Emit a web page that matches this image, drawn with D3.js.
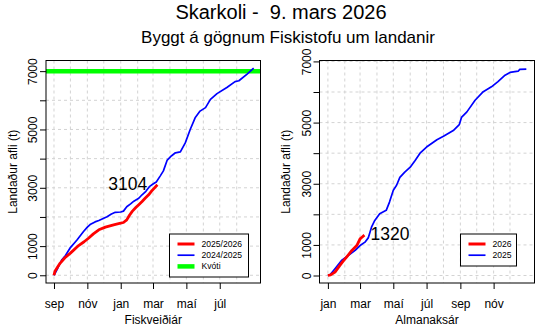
<!DOCTYPE html>
<html><head><meta charset="utf-8">
<script src="https://cdn.jsdelivr.net/npm/d3@7"></script>
<style>
html,body{margin:0;padding:0;background:#fff;}
text{font-family:"Liberation Sans",Arial,Helvetica,sans-serif;fill:#000;}
</style></head>
<body><svg id="c" width="555" height="333"></svg>
<script>
// ---- DATA ----
const title = "Skarkoli -  9. mars 2026";
const subtitle = "Byggt á gögnum Fiskistofu um landanir";
const yLabel = "Landaður afli (t)";
// Fishing year panel (days since 1 Sep)
const fyMonthDays = [0,30,61,91,122,153,181,212,242,273,303,334];
const fyTickDays = [0,61,122,181,242,303];
const fyTickLabels = ["sep","nóv","jan","mar","maí","júl"];
const fyPrevDays = [0,7,14,21,30,42,54,61,66,75,82,90,97,105,112,122,127,133,140,146,155,161,168,175,181,187,194,200,207,215,222,231,240,249,258,267,277,286,298,316,331,338,353,365];
const fyPrevVals = [0,250,520,680,950,1210,1500,1650,1740,1830,1880,1950,2010,2100,2160,2170,2200,2350,2450,2540,2640,2760,2880,3050,3130,3200,3400,3580,3950,4100,4200,4230,4540,5000,5400,5630,5750,6030,6230,6440,6640,6670,6900,7100];
const fyCurDays = [0,2,11,20,30,45,55,63,72,82,94,109,120,127,133,138,143,150,155,161,167,173,178,183,189];
const fyCurVals = [0,150,410,600,760,1020,1150,1270,1420,1560,1650,1730,1780,1810,1900,2060,2190,2330,2420,2530,2650,2760,2880,2980,3104];
const quota = 7000;
const fyLegend = ["2025/2026","2024/2025","Kvóti"];
const fyAnnot = {day:135, value:3104, text:"3104"};
// Calendar year panel (days since 1 Jan)
const cyMonthDays = [0,31,59,90,120,151,181,212,243,273,304,334];
const cyTickDays = [0,59,120,181,243,304];
const cyTickLabels = ["jan","mar","maí","júl","sep","nóv"];
const cyPrevDays = [0,4,13,25,37,50,59,68,74,80,86,95,107,113,120,126,132,141,151,160,169,181,200,212,230,241,245,255,270,285,300,312,325,334,349,352,364];
const cyPrevVals = [0,20,220,490,650,820,980,1090,1230,1580,1800,2020,2130,2400,2790,2950,3210,3380,3540,3760,4000,4200,4440,4550,4740,4930,5170,5350,5730,6010,6170,6340,6550,6640,6680,6740,6750];
const cyCurDays = [0,5,13,22,28,35,44,53,59,63,67];
const cyCurVals = [0,20,110,330,470,620,820,980,1200,1260,1320];
const cyLegend = ["2026","2025"];
const cyAnnot = {day:114, value:1320, text:"1320"};
const yTicks = [0,1000,2000,3000,4000,5000,6000,7000];
const yTickLabels = ["0","1000","","3000","","5000","","7000"];
const xLabels = ["Fiskveiðiár","Almanaksár"];

// ---- DRAW ----
const svg = d3.select("#c");
svg.append("text").attr("x",281).attr("y",18.5).attr("text-anchor","middle")
  .style("font-size","20px").style("white-space","pre").text(title);
svg.append("text").attr("x",288).attr("y",42.5).attr("text-anchor","middle")
  .style("font-size","17px").text(subtitle);

function panel(o){
  const x = d3.scaleLinear().domain(o.xDom).range([o.x0,o.x1]);
  const y = d3.scaleLinear().domain(o.yDom).range([o.yb,o.yt]);
  const g = svg.append("g");
  const clipId = "clip"+o.id;
  svg.append("clipPath").attr("id",clipId).append("rect")
    .attr("x",o.x0).attr("y",o.yt).attr("width",o.x1-o.x0).attr("height",o.yb-o.yt);
  const gc = g.append("g").attr("clip-path",`url(#${clipId})`);
  // grid
  gc.selectAll(".vg").data(o.months).join("line")
    .attr("x1",d=>x(d)).attr("x2",d=>x(d)).attr("y1",o.yt).attr("y2",o.yb)
    .attr("stroke","#d3d3d3").attr("stroke-dasharray","3,3").attr("stroke-width",1);
  gc.selectAll(".hg").data(yTicks).join("line")
    .attr("x1",o.x0).attr("x2",o.x1).attr("y1",d=>y(d)).attr("y2",d=>y(d))
    .attr("stroke","#d3d3d3").attr("stroke-dasharray","3,3").attr("stroke-width",1);
  // quota
  if(o.quota!=null){
    gc.append("line").attr("x1",o.x0).attr("x2",o.x1).attr("y1",y(o.quota)).attr("y2",y(o.quota))
      .attr("stroke","#00ff00").attr("stroke-width",4.5);
  }
  const line = d3.line().x(d=>x(d[0])).y(d=>y(d[1]));
  gc.append("path").datum(d3.zip(o.prevDays,o.prevVals)).attr("d",line)
    .attr("fill","none").attr("stroke","#0000ff").attr("stroke-width",1.7).attr("stroke-linejoin","round");
  gc.append("path").datum(d3.zip(o.curDays,o.curVals)).attr("d",line)
    .attr("fill","none").attr("stroke","#ff0000").attr("stroke-width",2.8).attr("stroke-linejoin","round");
  // box
  g.append("rect").attr("x",o.x0).attr("y",o.yt).attr("width",o.x1-o.x0).attr("height",o.yb-o.yt)
    .attr("fill","none").attr("stroke","#000").attr("stroke-width",1);
  // y axis
  const ya = g.append("g").attr("transform",`translate(${o.x0},0)`)
    .call(d3.axisLeft(y).tickValues(yTicks).tickSize(6).tickPadding(0).tickFormat((d,i)=>yTickLabels[i]));
  ya.select(".domain").remove();
  ya.selectAll("line").attr("stroke","#000");
  ya.selectAll(".tick text")
    .attr("transform","translate(-9,0) rotate(-90)")
    .attr("x",0).attr("y",0).attr("dy",0).attr("text-anchor","middle").style("font-size","12px");
  // x axis
  const xa = g.append("g").attr("transform",`translate(0,${o.yb})`)
    .call(d3.axisBottom(x).tickValues(o.tickDays).tickSize(6).tickPadding(10).tickFormat((d,i)=>o.tickLabels[i]));
  xa.select(".domain").remove();
  xa.selectAll("line").attr("stroke","#000");
  xa.selectAll("text").style("font-size","12px").attr("dy","0.71em");
  // labels
  svg.append("text").attr("transform",`translate(${o.x0-29.5},${(o.yt+o.yb)/2}) rotate(-90)`)
    .attr("text-anchor","middle").style("font-size","12px").text(yLabel);
  svg.append("text").attr("x",(o.x0+o.x1)/2).attr("y",324).attr("text-anchor","middle")
    .style("font-size","12px").text(o.xLabel);
  // annotation
  svg.append("text").attr("x",x(o.annot.day)).attr("y",y(o.annot.value)+4.8)
    .attr("text-anchor","middle").style("font-size","17.5px").text(o.annot.text);
  // legend
  const L = o.legend;
  const lg = svg.append("g");
  lg.append("rect").attr("x",L.x).attr("y",L.y).attr("width",L.w).attr("height",L.h)
    .attr("fill","#fff").attr("stroke","#000").attr("stroke-width",1);
  L.items.forEach((it,i)=>{
    const yy = L.y + 10 + i*11.2;
    lg.append("line").attr("x1",L.x+8).attr("x2",L.x+25).attr("y1",yy).attr("y2",yy)
      .attr("stroke",it.c).attr("stroke-width",it.w);
    lg.append("text").attr("x",L.x+32).attr("y",yy+3).style("font-size","8.6px").text(it.t);
  });
}

panel({id:1,x0:46,x1:260.5,yt:60.5,yb:283,xDom:[-14.6,377.5],yDom:[-265,7365],
  months:fyMonthDays,tickDays:fyTickDays,tickLabels:fyTickLabels,
  prevDays:fyPrevDays,prevVals:fyPrevVals,curDays:fyCurDays,curVals:fyCurVals,quota:quota,
  xLabel:xLabels[0],annot:fyAnnot,
  legend:{x:169.5,y:234,w:79,h:43,items:[{t:fyLegend[0],c:"#ff0000",w:3},{t:fyLegend[1],c:"#0000ff",w:1.7},{t:fyLegend[2],c:"#00ff00",w:4.5}]}
});
panel({id:2,x0:319.5,x1:534.5,yt:60.5,yb:283,xDom:[-15.4,379],yDom:[-245,7030],
  months:cyMonthDays,tickDays:cyTickDays,tickLabels:cyTickLabels,
  prevDays:cyPrevDays,prevVals:cyPrevVals,curDays:cyCurDays,curVals:cyCurVals,quota:null,
  xLabel:xLabels[1],annot:cyAnnot,
  legend:{x:460.5,y:234,w:56,h:32,items:[{t:cyLegend[0],c:"#ff0000",w:3},{t:cyLegend[1],c:"#0000ff",w:1.7}]}
});
</script></body></html>
